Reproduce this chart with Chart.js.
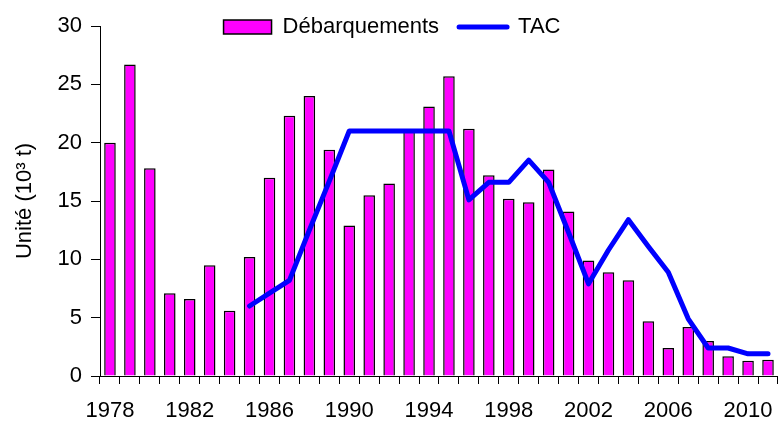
<!DOCTYPE html>
<html>
<head>
<meta charset="utf-8">
<script src="https://cdn.jsdelivr.net/npm/chart.js@4"></script>
<style>
  html, body { margin: 0; padding: 0; background: #fff; }
  #wrap { width: 782px; height: 422px; }
</style>
</head>
<body>
<div id="wrap"><canvas id="chart-landings" width="782" height="422"></canvas></div>
<script>
const years = [
    1978, 1979, 1980, 1981, 1982, 1983, 1984, 1985, 1986, 1987, 1988, 1989,
    1990, 1991, 1992, 1993, 1994, 1995, 1996, 1997, 1998, 1999, 2000, 2001,
    2002, 2003, 2004, 2005, 2006, 2007, 2008, 2009, 2010, 2011
];

const landings = [
    20.0, 26.7, 17.8, 7.1, 6.6, 9.5, 5.6, 10.2, 17.0, 22.3, 24.0, 19.4,
    12.9, 15.5, 16.5, 21.0, 23.1, 25.7, 21.2, 17.2, 15.2, 14.9, 17.7, 14.1,
    9.9, 8.9, 8.2, 4.7, 2.4, 4.2, 3.0, 1.7, 1.3, 1.4
];

// TAC only starts in 1985
const tac = [
    null, null, null, null, null, null, null, 6.0, 7.1, 8.2, 12.5, 16.7,
    21.0, 21.0, 21.0, 21.0, 21.0, 21.0, 15.1, 16.6, 16.6, 18.5, 16.6, 12.3,
    7.9, 10.8, 13.4, 11.1, 8.9, 4.9, 2.4, 2.4, 1.9, 1.9
];

const yTicks = [0, 5, 10, 15, 20, 25, 30];

const font = 'Liberation Sans, Arial, sans-serif';

// legend sits over the plot, so it takes no room of its own
const legendNoSpace = {
    id: 'legendNoSpace',
    beforeInit(chart) {
        const fit = chart.legend.fit;
        chart.legend.fit = function () {
            fit.bind(chart.legend)();
            this.height = 30;
        };
    },
    afterLayout(chart) {
        // legend clips to its own box, let it reach over the plot
        chart.legend.bottom = chart.legend.top + 60;
    }
};

const data = {
    labels: years,
    datasets: [{
        type: 'bar',
        label: 'Débarquements',
        data: landings,
        backgroundColor: '#ff00ff',
        borderColor: '#000000',
        borderWidth: 1.5,
        barPercentage: 0.58,
        categoryPercentage: 1,
        order: 2
    }, {
        type: 'line',
        label: 'TAC',
        data: tac,
        borderColor: '#0000ff',
        backgroundColor: '#0000ff',
        borderWidth: 5,
        borderCapStyle: 'round',
        borderJoinStyle: 'round',
        pointRadius: 0,
        tension: 0,
        spanGaps: false,
        order: 1
    }]
};

const config = {
    type: 'bar',
    data: data,
    plugins: [legendNoSpace],
    options: {
        responsive: false,
        animation: false,
        layout: { padding: { top: -4, right: -2, left: 0, bottom: 0 } },
        plugins: {
            tooltip: { enabled: false },
            legend: {
                position: 'top',
                labels: {
                    color: '#000',
                    font: { family: font, size: 22 },
                    usePointStyle: true,
                    pointStyleWidth: 48,
                    boxWidth: 48,
                    boxHeight: 14,
                    padding: 20,
                    generateLabels(chart) {
                        const items = Chart.defaults.plugins.legend.labels.generateLabels(chart);
                        items.sort((a, b) => a.datasetIndex - b.datasetIndex);
                        return items.map(item => {
                            if (item.datasetIndex === 0) {
                                item.pointStyle = 'rect';
                                item.fillStyle = '#ff00ff';
                                item.strokeStyle = '#000';
                                item.lineWidth = 1.5;
                            } else {
                                item.pointStyle = 'line';
                                item.strokeStyle = '#0000ff';
                                item.lineWidth = 5;
                                item.lineCap = 'round';
                            }
                            return item;
                        });
                    }
                }
            }
        },
        scales: {
            x: {
                offset: true,
                afterFit(scale) { scale.height = 46; },
                grid: {
                    offset: true,
                    drawOnChartArea: false,
                    drawTicks: true,
                    tickLength: 8,
                    color: '#000'
                },
                border: { display: true, color: '#000', width: 1 },
                ticks: {
                    autoSkip: false,
                    maxRotation: 0,
                    padding: 14,
                    color: '#000',
                    font: { family: font, size: 22 },
                    callback(value, index) {
                        return index % 4 === 0 ? String(years[index]) : '';
                    }
                }
            },
            y: {
                min: yTicks[0],
                max: yTicks[yTicks.length - 1],
                afterFit(scale) { scale.width = 100; },
                grid: {
                    drawOnChartArea: false,
                    drawTicks: true,
                    tickLength: 9,
                    color: '#000'
                },
                border: { display: true, color: '#000', width: 1 },
                ticks: {
                    stepSize: 5,
                    padding: 9,
                    color: '#000',
                    font: { family: font, size: 22 }
                },
                title: {
                    display: true,
                    text: 'Unité (10³ t)',
                    color: '#000',
                    padding: { top: 12, bottom: 0 },
                    font: { family: font, size: 22 }
                }
            }
        }
    }
};

const landingsChart = new Chart(document.getElementById('chart-landings'), config);
</script>
</body>
</html>
